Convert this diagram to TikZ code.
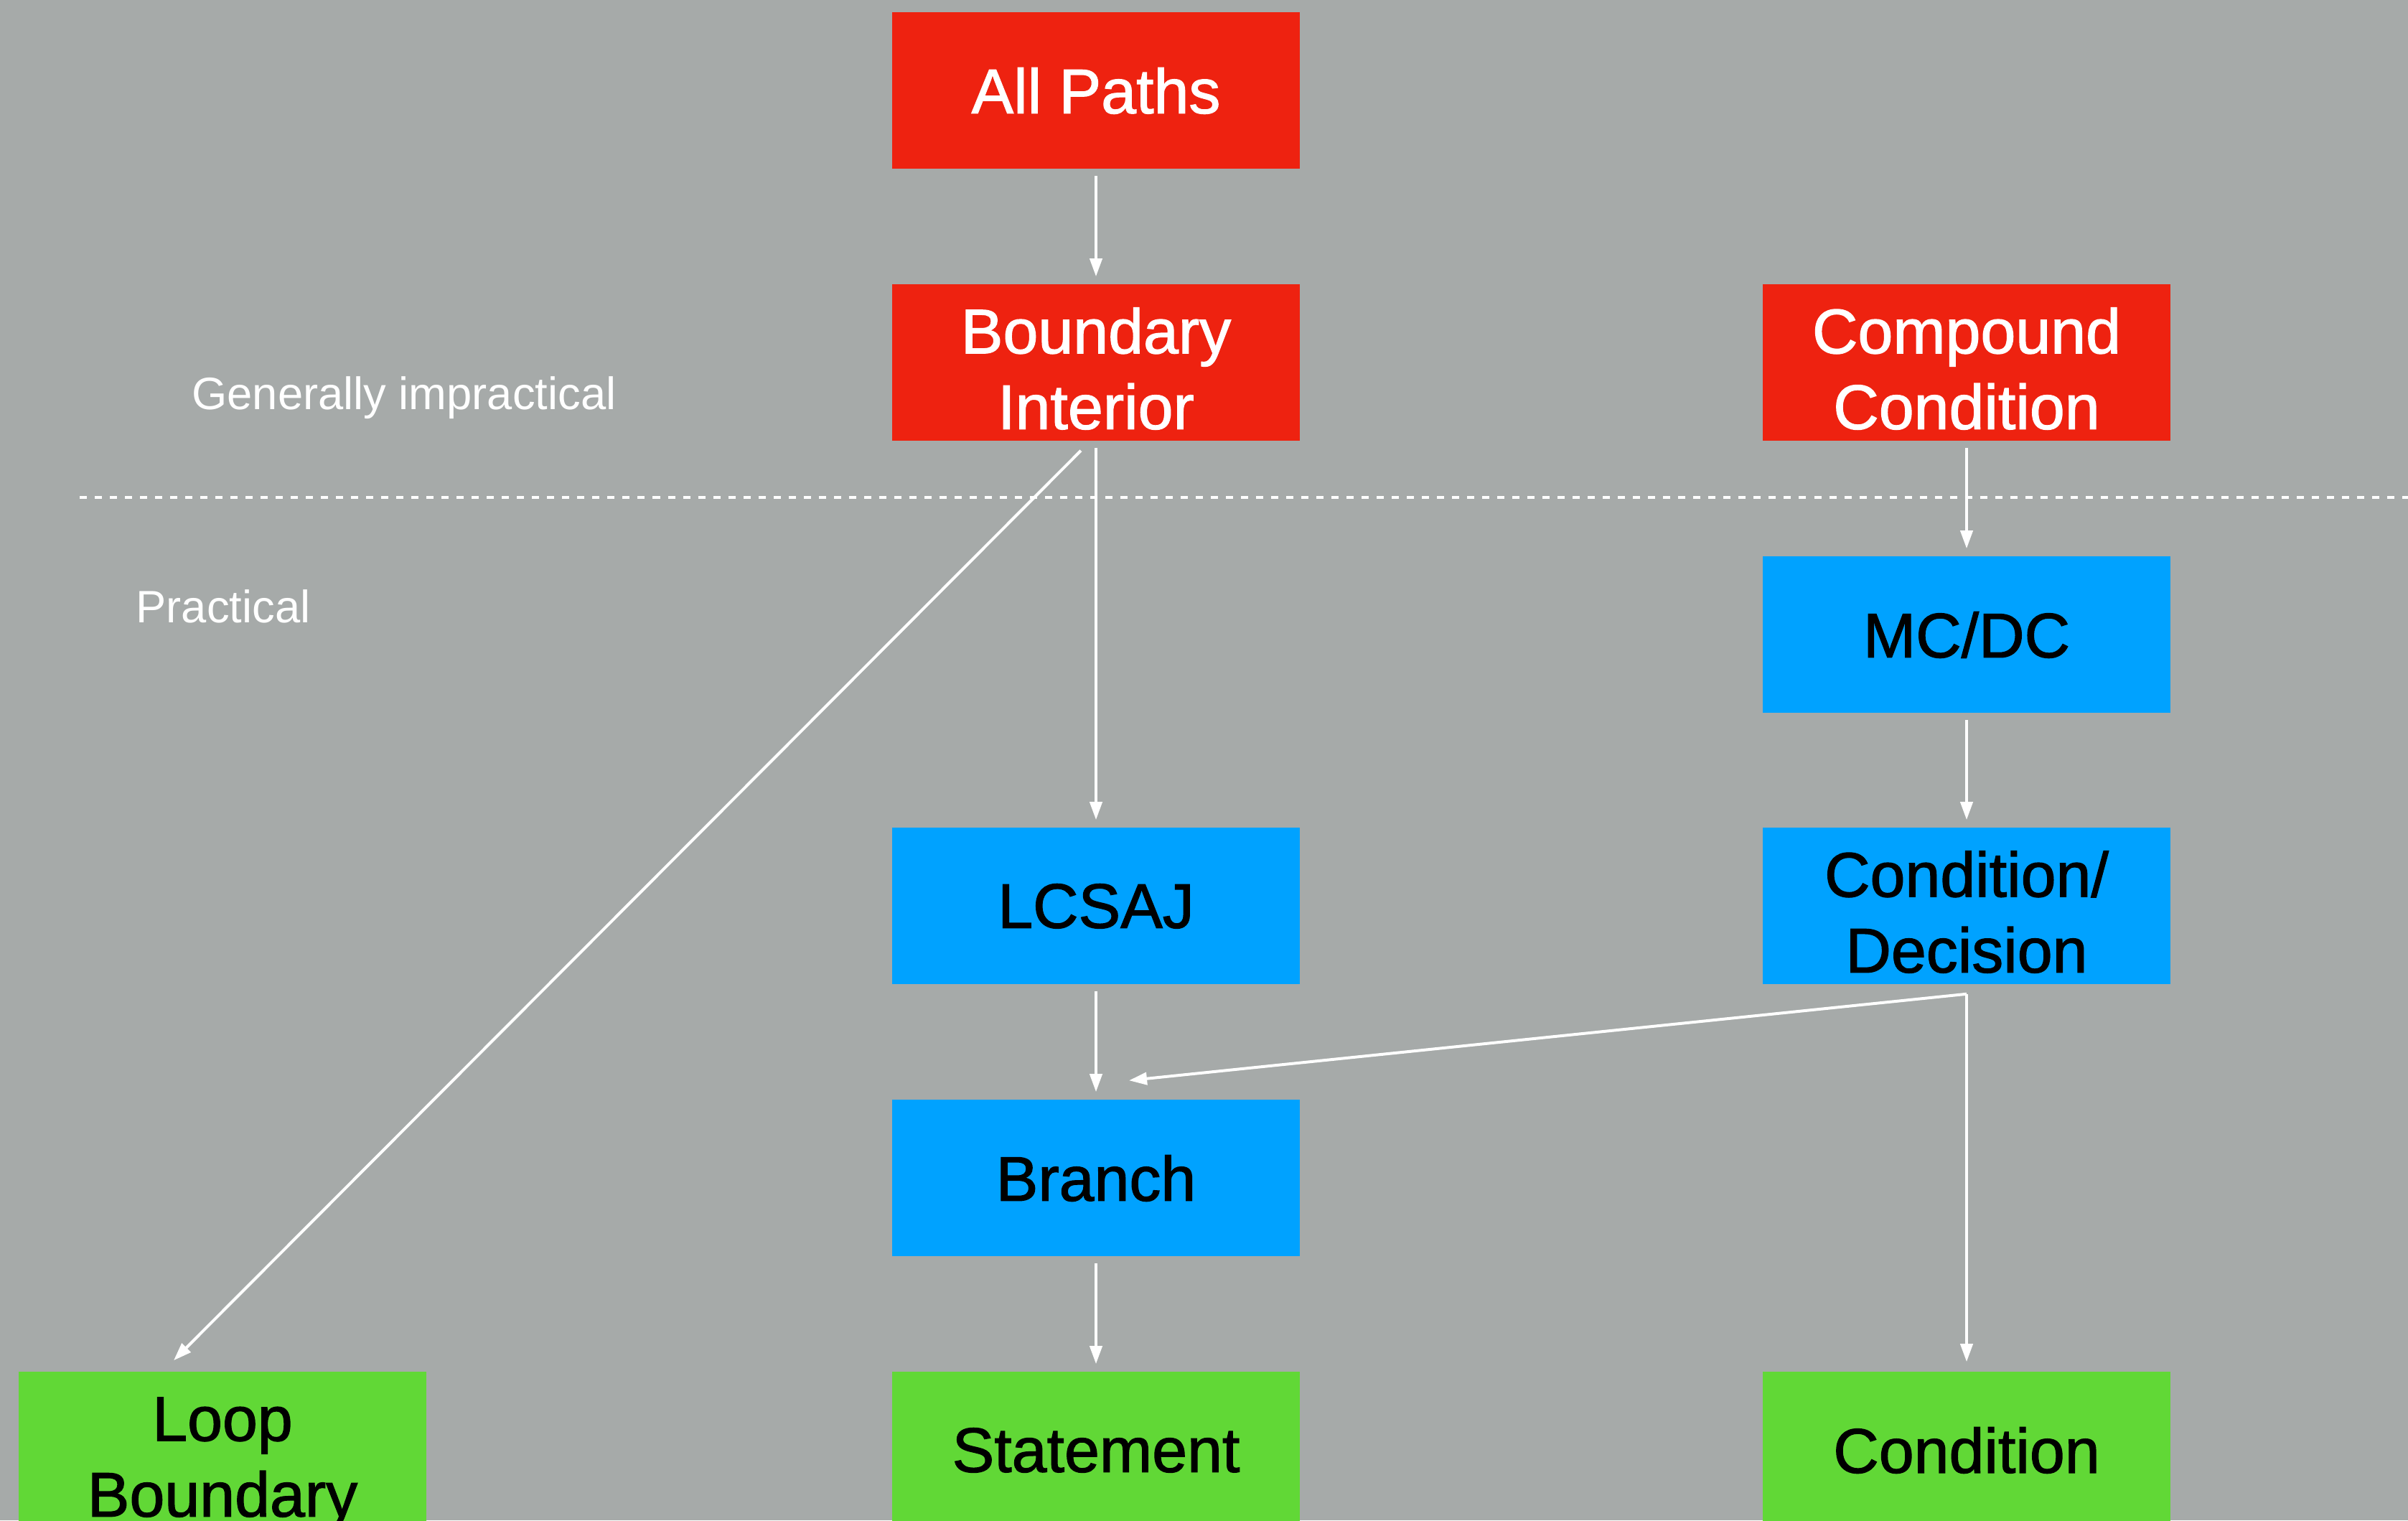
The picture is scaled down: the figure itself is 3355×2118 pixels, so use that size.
\documentclass[tikz,border=0pt]{standalone}
\usepackage{fontspec}
\setmainfont{Liberation Sans}
\newfontfamily\boxfont[FakeBold=1.4]{Liberation Sans}
\usetikzlibrary{arrows.meta,calc}
\definecolor{bggray}{RGB}{166,170,169}
\definecolor{hardred}{RGB}{238,34,16}
\definecolor{midblue}{RGB}{0,162,255}
\definecolor{easygreen}{RGB}{97,216,54}
% extra headroom on the first of two label lines
\newcommand\toppad{\rule{0pt}{0.8cm}}
\begin{document}
\begin{tikzpicture}[x=0.01cm,y=-0.01cm,
  box/.style={rectangle,inner sep=0pt,minimum width=5.67cm,minimum height=2.18cm,
    align=center,font=\boxfont\fontsize{25}{30}\selectfont,text depth=0pt},
  hard/.style={box,fill=hardred,text=white},
  mid/.style={box,fill=midblue,text=black},
  easy/.style={box,fill=easygreen,text=black},
  link/.style={draw=white,line width=0.04cm,-{Triangle[length=0.25cm,width=0.17cm]},
    shorten <=0.09cm,shorten >=0.1cm},
  zone/.style={text=white,font=\fontsize{18}{22}\selectfont,anchor=base,inner sep=0pt}]

% canvas
\fill[bggray] (0,0) rectangle (3355,2118);
\clip (0,0) rectangle (3355,2118);

% coverage criteria
\node[hard] (all)   at (1527,126)  {All Paths};
\node[hard] (bi)    at (1527,505)  {\toppad Boundary\\Interior};
\node[hard] (cc)    at (2740,505)  {\toppad Compound\\Condition};
\node[mid]  (mcdc)  at (2740,884)  {MC/DC};
\node[mid]  (lcsaj) at (1527,1262) {LCSAJ};
\node[mid]  (cd)    at (2740,1262) {\toppad Condition/\\Decision};
\node[mid]  (br)    at (1527,1641) {Branch};
\node[easy] (loop)  at (310,2020)  {\toppad Loop\\Boundary};
\node[easy] (st)    at (1527,2020) {Statement};
\node[easy] (cond)  at (2740,2020) {Condition};

% practicality divider
\coordinate (divL) at (111,693);
\coordinate (divR) at (3355,693);
\draw[white,line width=0.04cm,dash pattern=on 0.1cm off 0.11cm] (divL) -- (divR);
\node[zone] (imp)  at (563,570) {Generally impractical};
\node[zone] (prac) at (311,867) {Practical};

% subsumption
\draw[link] (all) -- (bi);
\draw[link] (bi) -- (lcsaj);
\draw[link,shorten <=0pt,shorten >=0pt] ($(bi.south)+(-21,13)$) -- ($(loop.north)+(-68,-15)$);
\draw[link] (cc) -- (mcdc);
\draw[link] (mcdc) -- (cd);
\draw[link] (lcsaj) -- (br);
\draw[link] (br) -- (st);
\coordinate (cdj) at ($(cd.south)+(0,13)$);
\draw[link,shorten <=0pt,shorten >=0pt] (cdj) -- ($(br.north)+(46,-26)$);
\draw[link,shorten <=0pt,shorten >=0.13cm] (cdj) -- (cond.north);
\end{tikzpicture}
\end{document}
